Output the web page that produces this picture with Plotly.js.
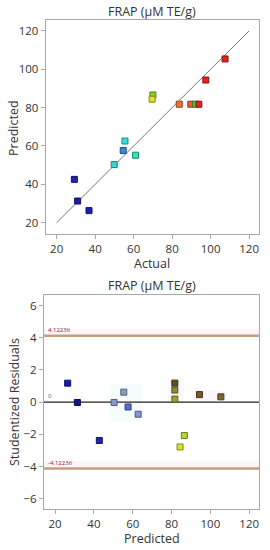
<!DOCTYPE html>
<html>
<head>
<meta charset="utf-8">
<script src="https://cdn.plot.ly/plotly-3.0.1.min.js"></script>
<style>html,body{margin:0;padding:0;background:#fff;}#chart{width:270px;height:550px;}</style>
</head>
<body>
<div id="chart"></div>
<script>
// Top panel: Predicted vs Actual
const actual    = [107.5, 97.5, 70.0, 69.6, 83.7, 89.7, 92.2, 93.9, 55.5, 54.6, 61.0, 49.9, 29.2, 30.9, 36.8];
const predicted = [105.4, 94.4, 86.6, 84.4, 81.8, 81.8, 81.8, 81.8, 62.6, 57.6, 55.2, 50.3, 42.6, 31.3, 26.3];
const topColors = ['#e42222','#e42222','#8cd02c','#d8e428','#f27030','#f05a30','#5cc83c','#e02424','#34e0d4','#3a86d4','#34e2b4','#34d4d4','#2222b0','#1c1ca8','#2020b0'];
const fitX = [20, 120];
const fitY = [20, 120];

// Bottom panel: Studentized residuals vs Predicted
const resPred = [26.5, 31.5, 42.8, 50.4, 55.4, 57.6, 62.8, 81.7, 81.7, 81.7, 94.4, 105.4, 86.6, 84.4];
const resVal  = [1.18, -0.02, -2.38, -0.02, 0.62, -0.30, -0.75, 1.18, 0.75, 0.19, 0.47, 0.33, -2.07, -2.78];
const resColors = ['#1a1aac','#12128a','#2424b4','#8a9ad0','#8e9cc0','#5a6ad4','#8494e0','#5a5020','#8c8a30','#9aa430','#7a5a28','#7e6430','#b8d430','#d4e430'];
const limit = 4.12236;
const limitLabels = ['4.12236', '-4.12236', '0'];

const ticksX = [20, 40, 60, 80, 100, 120];
const ticksTopY = [20, 40, 60, 80, 100, 120];
const ticksResY = [-6, -4, -2, 0, 2, 4, 6];

const font = 'Open Sans, Noto Sans, sans-serif';
const axCommon = {
  showgrid: false, zeroline: false, showline: true, mirror: true,
  linecolor: '#a8a8a8', linewidth: 1, ticks: 'outside', ticklen: 4,
  tickcolor: '#a8a8a8', tickfont: {family: font, size: 11.5, color: '#333'},
  fixedrange: true
};

function darker(c) {
  const n = parseInt(c.slice(1), 16);
  const r = Math.round(((n >> 16) & 255) * 0.6), g = Math.round(((n >> 8) & 255) * 0.6), b = Math.round((n & 255) * 0.6);
  return 'rgb(' + r + ',' + g + ',' + b + ')';
}

const traces = [
  {x: fitX, y: fitY, xaxis: 'x', yaxis: 'y', mode: 'lines', line: {color: '#777', width: 1}, hoverinfo: 'skip'},
  {x: actual, y: predicted, xaxis: 'x', yaxis: 'y', mode: 'markers', type: 'scatter',
   marker: {symbol: 'square', size: 6, color: topColors, line: {color: topColors.map(darker), width: 1}}},
  {x: [14, 126], y: [0, 0], xaxis: 'x2', yaxis: 'y2', mode: 'lines', line: {color: '#222', width: 1.2}, hoverinfo: 'skip'},
  {x: [14, 126], y: [limit, limit], xaxis: 'x2', yaxis: 'y2', mode: 'lines', line: {color: '#c49c80', width: 2.5}, hoverinfo: 'skip'},
  {x: [14, 126], y: [-limit, -limit], xaxis: 'x2', yaxis: 'y2', mode: 'lines', line: {color: '#c49c80', width: 2.5}, hoverinfo: 'skip'},
  {x: resPred, y: resVal, xaxis: 'x2', yaxis: 'y2', mode: 'markers', type: 'scatter',
   marker: {symbol: 'square', size: 6, color: resColors, line: {color: resColors.map(darker), width: 1}}}
];

const ann = (text, x, y, extra) => Object.assign({text: text, xref: 'paper', yref: 'paper', x: x, y: y, xanchor: 'center', yanchor: 'middle', showarrow: false, font: {family: font, size: 12.5, color: '#333'}}, extra || {});

const layout = {
  width: 270, height: 550, showlegend: false,
  margin: {l: 0, r: 0, t: 0, b: 0},
  paper_bgcolor: '#fff', plot_bgcolor: '#fff',
  xaxis: Object.assign({}, axCommon, {domain: [45.7/270, 259.3/270], range: [14.3, 125.3], tickvals: ticksX, anchor: 'y'}),
  yaxis: Object.assign({}, axCommon, {domain: [1 - 234.3/550, 1 - 20/550], range: [13.95, 125.7], tickvals: ticksTopY, anchor: 'x'}),
  xaxis2: Object.assign({}, axCommon, {domain: [44/270, 259.3/270], range: [14.3, 125.2], tickvals: ticksX, anchor: 'y2'}),
  yaxis2: Object.assign({}, axCommon, {domain: [1 - 509.3/550, 1 - 295/550], range: [-6.65, 6.65], tickvals: ticksResY, anchor: 'x2'}),
  shapes: [
    {type: 'rect', xref: 'x2', yref: 'y2', x0: 14.3, x1: 125.2, y0: limit + 0.08, y1: limit + 0.45, fillcolor: '#fef5f9', line: {width: 0}, layer: 'below'},
    {type: 'rect', xref: 'x2', yref: 'y2', x0: 14.3, x1: 125.2, y0: -limit + 0.08, y1: -limit + 0.45, fillcolor: '#fef5f9', line: {width: 0}, layer: 'below'},
    {type: 'rect', xref: 'x2', yref: 'y2', x0: 48, x1: 65, y0: -1.2, y1: 1.1, fillcolor: '#f5fdfd', line: {width: 0}, layer: 'below'},
    {type: 'rect', xref: 'x2', yref: 'y2', x0: 78, x1: 86, y0: 0, y1: 1.5, fillcolor: '#fef6fa', line: {width: 0}, layer: 'below'},
    {type: 'rect', xref: 'x2', yref: 'y2', x0: 91, x1: 108, y0: 0.1, y1: 0.75, fillcolor: '#fef6fa', line: {width: 0}, layer: 'below'}
  ],
  annotations: [
    ann('FRAP (μM TE/g)', 152/270, 1 - 11/550),
    ann('FRAP (μM TE/g)', 152/270, 1 - 285/550),
    ann('Actual', 152/270, 1 - 263/550),
    ann('Predicted', 152/270, 1 - 538/550),
    ann('Predicted', 14/270, 1 - 128/550, {textangle: -90}),
    ann('Studentized Residuals', 14/270, 1 - 402/550, {textangle: -90}),
    {text: limitLabels[0], xref: 'x2', yref: 'y2', x: 15.5, y: limit, xanchor: 'left', yanchor: 'bottom', showarrow: false, font: {family: font, size: 6, color: '#8a2040'}},
    {text: limitLabels[1], xref: 'x2', yref: 'y2', x: 15.5, y: -limit, xanchor: 'left', yanchor: 'bottom', showarrow: false, font: {family: font, size: 6, color: '#8a2040'}},
    {text: limitLabels[2], xref: 'x2', yref: 'y2', x: 15.5, y: 0, xanchor: 'left', yanchor: 'bottom', showarrow: false, font: {family: font, size: 6, color: '#555'}}
  ]
};

Plotly.newPlot('chart', traces, layout, {displayModeBar: false, staticPlot: true});
</script>
</body>
</html>
